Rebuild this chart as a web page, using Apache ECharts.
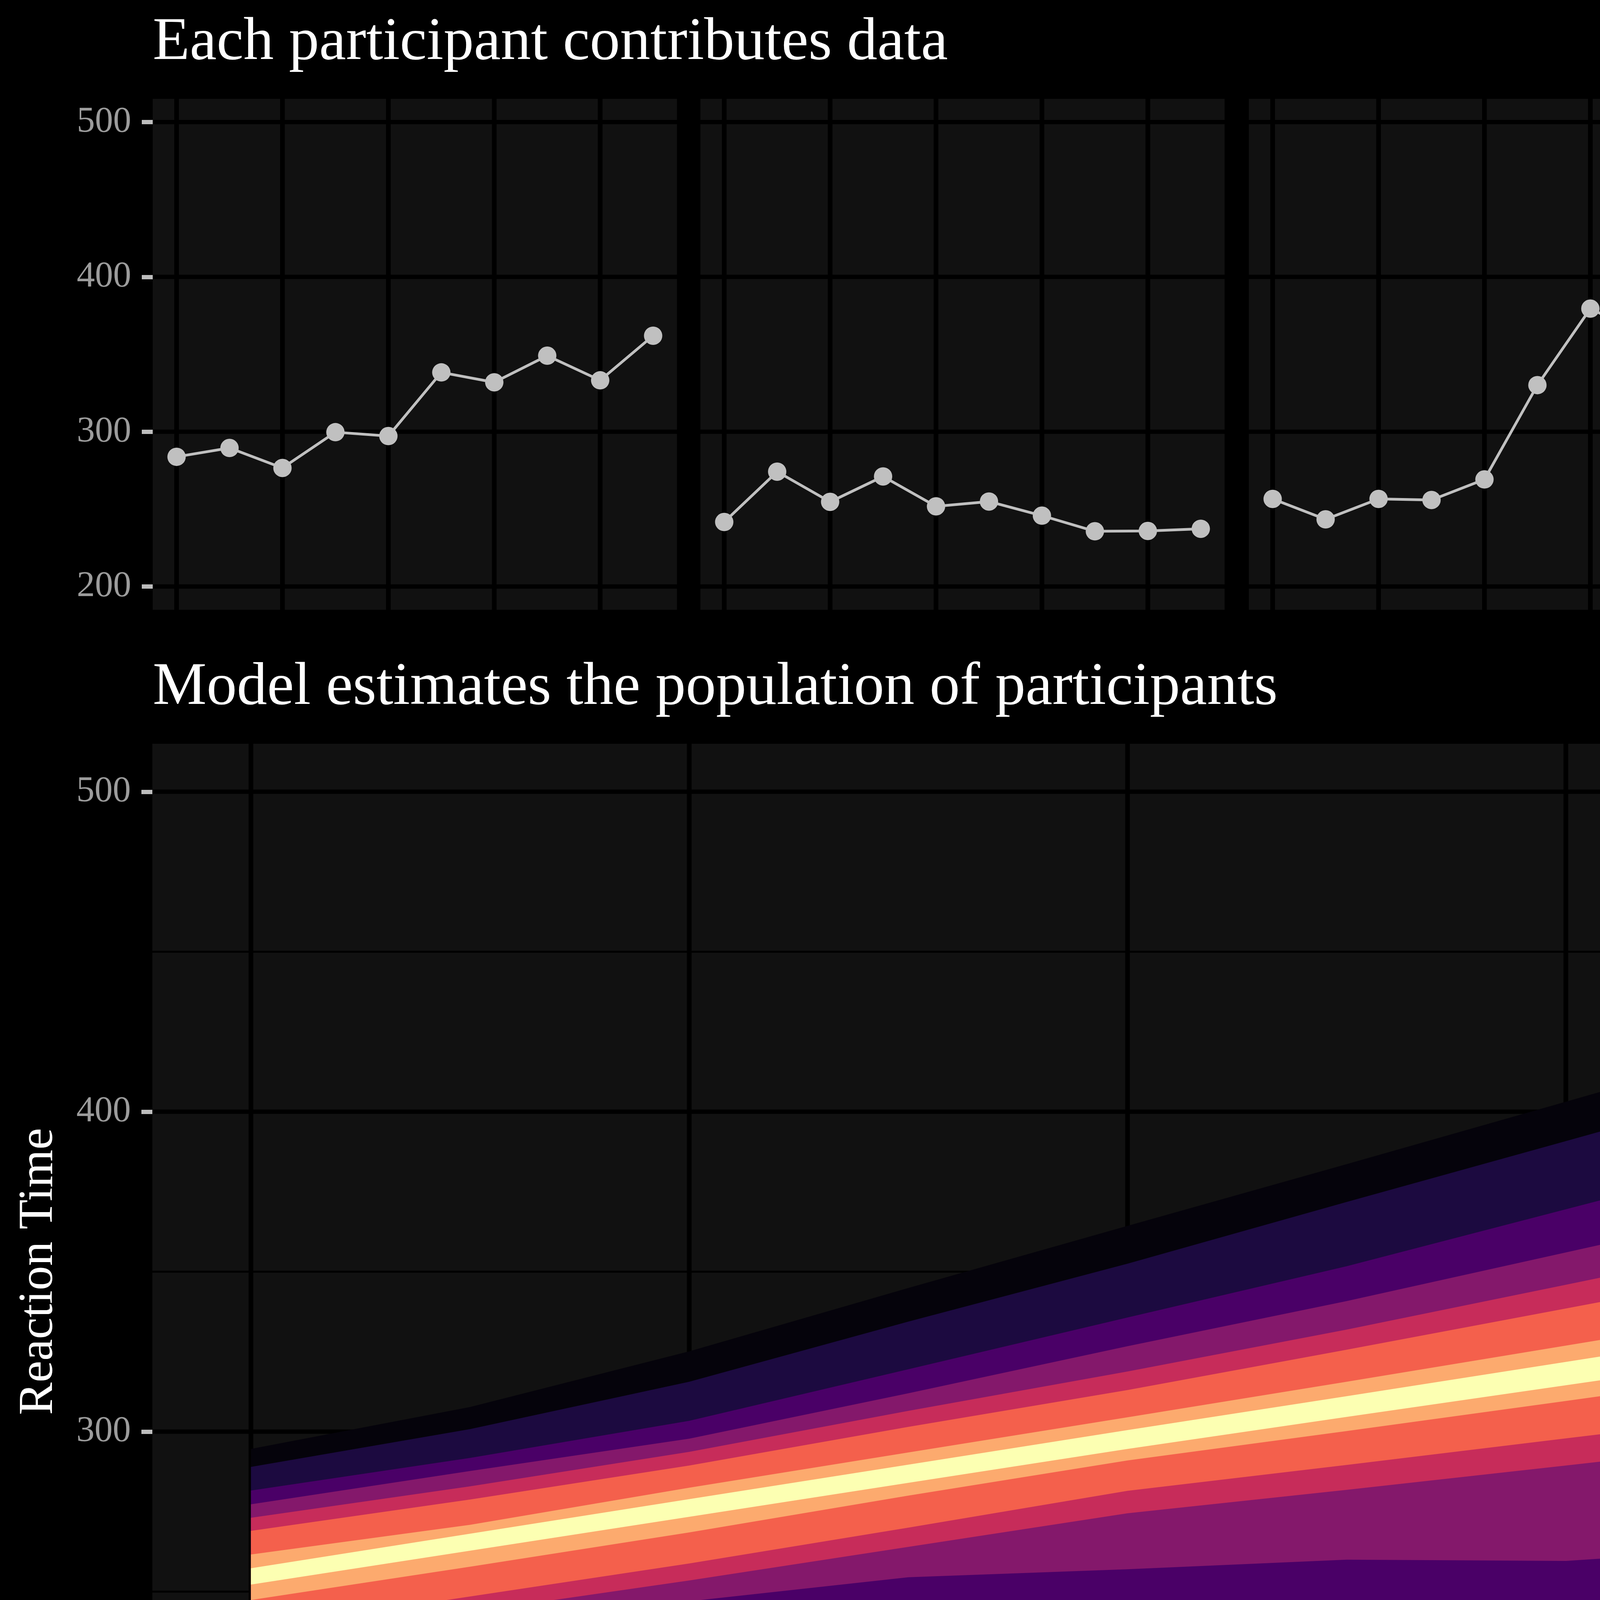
<!DOCTYPE html>
<html><head><meta charset="utf-8">
<script src="https://cdn.jsdelivr.net/npm/echarts@6/dist/echarts.min.js"></script>
<style>html,body{margin:0;padding:0;background:#000}#c{width:6000px;height:6600px}</style>
</head><body><div id="c"></div>
<script>
// ---------- data ----------
const days = [0, 1, 2, 3, 4, 5, 6, 7, 8, 9];
const xTickDays = [0, 2, 4, 6, 8];
const yTickValues = [200, 300, 400, 500];
const yMinorValues = [250, 350, 450];

// observed reaction times (four participants)
const subj1 = [283.8, 289.5, 276.6, 299.7, 297.2, 338.3, 331.9, 349.1, 333.2, 362.0];
const subj2 = [241.7, 274.2, 254.7, 271.1, 251.8, 254.9, 245.8, 235.7, 235.9, 237.3];
const subj3 = [256.6, 243.4, 256.6, 255.9, 269.2, 330.1, 379.5, 363.1, 394.7, 389.2];
const subj4 = [286.3, 288.2];

// population interval bands (upper / lower bound per day), outer to inner
const band1Hi = [294.6, 307.7, 325.1, 344.9, 364.3, 383.6, 403.1, 422.7, 442.3, 461.9];
const band1Lo = [203.7, 210.6, 213.4, 216.2, 219.0, 221.0, 223.0, 223.5, 224.0, 224.5];
const band2Hi = [289.0, 300.8, 315.6, 334.4, 352.5, 371.8, 390.8, 409.9, 428.9, 447.9];
const band2Lo = [209.3, 216.2, 219.9, 223.6, 226.4, 229.5, 232.1, 233.5, 234.5, 235.4];
const band3Hi = [281.6, 291.8, 303.4, 319.5, 335.7, 351.7, 369.5, 387.3, 405.1, 422.9];
const band3Lo = [219.0, 228.9, 236.3, 240.5, 241.8, 243.5, 245.2, 247.2, 249.2, 251.5];
const band4Hi = [277.3, 287.7, 297.8, 312.0, 326.7, 340.8, 356.0, 371.2, 386.3, 401.5];
const band4Lo = [226.8, 237.1, 247.0, 254.5, 257.0, 260.0, 259.6, 264.1, 268.6, 273.1];
const band5Hi = [273.1, 282.9, 293.7, 306.5, 318.8, 331.9, 345.9, 360.0, 374.1, 388.2];
const band5Lo = [233.0, 243.6, 253.5, 264.0, 274.5, 281.8, 289.4, 297.1, 304.7, 312.3];
const band6Hi = [269.0, 278.8, 289.4, 301.5, 313.0, 325.6, 338.5, 351.4, 364.4, 377.3];
const band6Lo = [238.2, 248.5, 258.8, 270.0, 281.5, 289.6, 297.9, 306.1, 314.4, 322.6];
const band7Hi = [261.6, 270.9, 282.5, 293.5, 304.5, 315.6, 326.9, 338.2, 349.6, 360.9];
const band7Lo = [247.4, 257.8, 268.5, 280.0, 291.0, 300.2, 309.6, 319.1, 328.5, 337.9];
const band8Hi = [257.3, 268.1, 278.9, 289.7, 300.5, 311.1, 321.8, 332.5, 343.1, 353.8];
const band8Lo = [252.2, 262.8, 273.4, 284.0, 294.6, 304.6, 314.5, 324.4, 334.3, 344.2];

// individual fitted trajectories and their intervals
const fit1 = [267.5, 277.8, 288.1, 298.4, 308.7, 319.0, 329.3, 339.6, 349.9, 360.2];
const fit1Hi = [293.3, 299.3, 307.2, 314.5, 324.1, 335.0, 347.0, 360.7, 374.7, 387.7];
const fit1Lo = [245.1, 257.8, 271.1, 283.6, 295.2, 303.6, 312.0, 319.8, 326.5, 333.3];
const fit2 = [251.1, 250.8, 250.5, 250.2, 249.8, 249.5, 249.2, 248.9, 248.5, 248.2];
const fit2Hi = [277.8, 273.9, 269.4, 267.0, 265.1, 265.1, 267.0, 269.4, 272.8, 276.4];
const fit2Lo = [226.5, 230.1, 232.5, 234.5, 234.9, 234.5, 232.5, 228.9, 224.1, 219.5];
const fit3 = [239.8, 256.5, 273.3, 290.0, 306.7, 323.5, 340.2, 356.9, 373.7, 390.4];
const fit3Hi = [263.9, 278.3, 292.8, 307.7, 324.1, 341.4, 361.4, 380.7, 401.2, 420.5];
const fit3Lo = [212.8, 232.5, 253.0, 273.5, 292.8, 308.4, 322.9, 337.3, 350.6, 363.1];
const fit4 = [270.6, 281.8, 292.9, 304.1, 315.3, 326.4, 337.6, 348.8, 359.9, 371.1];
const fit4Hi = [301.7, 314.5, 331.3, 350.6, 373.5, 397.6, 422.9, 444.6, 468.7, 491.6];
const fit4Lo = [242.7, 251.1, 256.6, 258.6, 259.0, 258.6, 257.6, 256.1, 254.2, 252.3];

const titles = ['Each participant contributes data',
                'Model estimates the population of participants',
                'Individual trajectories "borrow information" from others'];
const xAxisTitle = 'Days';
const yAxisTitle = 'Reaction Time';

// ---------- styling ----------
const FONT = "'Liberation Serif', 'DejaVu Serif', serif";
const bandColors = ['#05030b', '#1c0a40', '#4a0067', '#84186b', '#c72c5a', '#f4604c', '#fcaa6e', '#fcffb2'];
const bandHis = [band1Hi, band2Hi, band3Hi, band4Hi, band5Hi, band6Hi, band7Hi, band8Hi];
const bandLos = [band1Lo, band2Lo, band3Lo, band4Lo, band5Lo, band6Lo, band7Lo, band8Lo];
const subjects = [subj1, subj2, subj3, subj4];
const fits = [fit1, fit2, fit3, fit4];
const fitHis = [fit1Hi, fit2Hi, fit3Hi, fit4Hi];
const fitLos = [fit1Lo, fit2Lo, fit3Lo, fit4Lo];

const XMIN = -0.45, XMAX = 9.45, YMIN = 185, YMAX = 515;
const facetLefts = [391, 1793, 3197, 4598];
const facetW = 1342;
const grids = [];
facetLefts.forEach(l => grids.push({ left: l, top: 253, width: facetW, height: 1308 }));
grids.push({ left: 390, top: 1904, width: 5554, height: 2703 });
facetLefts.forEach(l => grids.push({ left: l, top: 5203, width: facetW, height: 1309 }));

const gridOpts = grids.map(g => Object.assign({
  show: true, backgroundColor: '#111111', borderWidth: 0,
  containLabel: false, outerBoundsMode: 'none'
}, g));

const tickGrey = '#bdbdbd';
const labelGrey = '#9c9c9c';
const pointGrey = '#c0c0c0';

const xAxes = grids.map((g, i) => ({
  type: 'value', gridIndex: i, min: XMIN, max: XMAX, position: 'bottom',
  axisLine: { show: false, onZero: false }, splitLine: { show: false },
  axisTick: { show: i === 4, customValues: xTickDays, length: 29, lineStyle: { color: tickGrey, width: 11 } },
  axisLabel: { show: i === 4, customValues: xTickDays, margin: 38, color: labelGrey, fontSize: 93, fontFamily: FONT }
}));
const yAxes = grids.map((g, i) => {
  const lab = (i === 0 || i === 4 || i === 5);
  return {
    type: 'value', gridIndex: i, min: YMIN, max: YMAX, position: 'left',
    axisLine: { show: false, onZero: false }, splitLine: { show: false },
    axisTick: { show: lab, customValues: yTickValues, length: 28, lineStyle: { color: tickGrey, width: 11 } },
    axisLabel: { show: lab, customValues: yTickValues, margin: 55, color: labelGrey, fontSize: 93, fontFamily: FONT }
  };
});

function gridLineData(withMinor) {
  const d = [];
  xTickDays.forEach(v => d.push([0, v, 12]));
  yTickValues.forEach(v => d.push([1, v, 11]));
  if (withMinor) yMinorValues.forEach(v => d.push([1, v, 5]));
  return d;
}
function renderGridLine(params, api) {
  const kind = api.value(0), v = api.value(1), w = api.value(2);
  let p1, p2;
  if (kind === 0) { p1 = api.coord([v, YMIN]); p2 = api.coord([v, YMAX]); }
  else { p1 = api.coord([XMIN, v]); p2 = api.coord([XMAX, v]); }
  return { type: 'line', shape: { x1: p1[0], y1: p1[1], x2: p2[0], y2: p2[1] },
           style: { stroke: '#000000', lineWidth: w } };
}
function polygonFrom(api, hi, lo) {
  const pts = [];
  for (let k = 0; k < days.length; k++) pts.push(api.coord([days[k], hi[k]]));
  for (let k = days.length - 1; k >= 0; k--) pts.push(api.coord([days[k], lo[k]]));
  return pts;
}

const series = [];
grids.forEach((g, i) => {
  series.push({
    type: 'custom', xAxisIndex: i, yAxisIndex: i, z: 1, silent: true, clip: false,
    data: gridLineData(i === 4), renderItem: renderGridLine
  });
});

// top row: raw data
subjects.forEach((s, i) => {
  series.push({
    type: 'line', xAxisIndex: i, yAxisIndex: i, z: 3,
    data: s.map((v, k) => [days[k], v]),
    symbol: 'circle', symbolSize: 47, showSymbol: true,
    itemStyle: { color: pointGrey },
    lineStyle: { color: pointGrey, width: 7 }
  });
});

// middle: population bands
series.push({
  type: 'custom', xAxisIndex: 4, yAxisIndex: 4, z: 2, silent: true,
  data: bandColors.map((c, i) => [i]),
  renderItem: function (params, api) {
    const b = params.dataIndex;
    return { type: 'polygon', shape: { points: polygonFrom(api, bandHis[b], bandLos[b]) },
             style: { fill: bandColors[b] } };
  }
});

// bottom row: individual trajectories
subjects.forEach((s, i) => {
  const gi = 5 + i;
  series.push({
    type: 'custom', xAxisIndex: gi, yAxisIndex: gi, z: 2, silent: true,
    data: [[0]],
    renderItem: function (params, api) {
      return { type: 'polygon', shape: { points: polygonFrom(api, fitHis[i], fitLos[i]) },
               style: { fill: 'rgba(160,37,108,0.38)' } };
    }
  });
  series.push({
    type: 'line', xAxisIndex: gi, yAxisIndex: gi, z: 3, symbol: 'none',
    data: fits[i].map((v, k) => [days[k], v]),
    lineStyle: { color: 'rgba(215,205,205,0.52)', width: 20, cap: 'butt' }
  });
  series.push({
    type: 'scatter', xAxisIndex: gi, yAxisIndex: gi, z: 4,
    data: s.map((v, k) => [days[k], v]),
    symbol: 'circle', symbolSize: 47, itemStyle: { color: pointGrey }
  });
});

const titleY = [110, 1761, 5060];
const graphics = titles.map((t, i) => ({
  type: 'text', x: 391, y: titleY[i], z: 10,
  style: { text: t, fill: '#ffffff', font: '155px ' + FONT,
           textAlign: 'left', textVerticalAlign: 'middle', align: 'left', verticalAlign: 'middle' }
}));
graphics.push({
  type: 'text', x: 3167, y: 4819, z: 10,
  style: { text: xAxisTitle, fill: '#ffffff', font: '125px ' + FONT,
           textAlign: 'center', textVerticalAlign: 'middle', align: 'center', verticalAlign: 'middle' }
});
graphics.push({
  type: 'text', x: 100, y: 3255, rotation: Math.PI / 2, z: 10,
  style: { text: yAxisTitle, fill: '#ffffff', font: '125px ' + FONT,
           textAlign: 'center', textVerticalAlign: 'middle', align: 'center', verticalAlign: 'middle' }
});

const chart = echarts.init(document.getElementById('c'), null, { width: 6000, height: 6600 });
chart.setOption({
  backgroundColor: '#000000',
  animation: false,
  grid: gridOpts,
  xAxis: xAxes,
  yAxis: yAxes,
  series: series,
  graphic: graphics
});
</script></body></html>
